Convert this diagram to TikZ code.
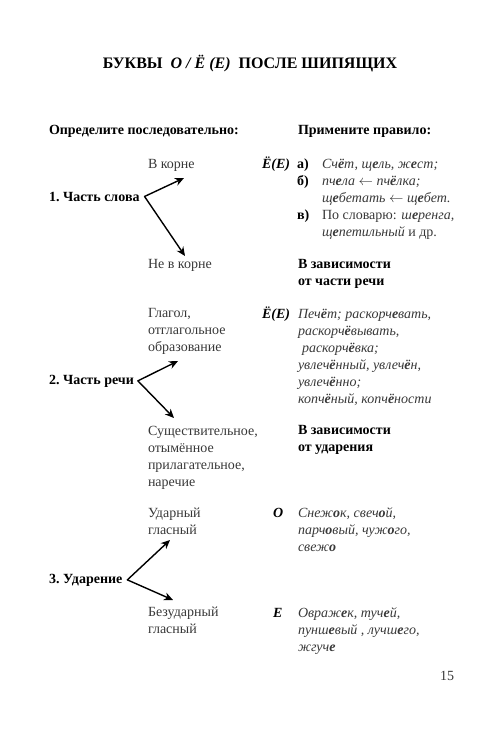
\documentclass[tikz,border=0pt]{standalone}
\usepackage{fontspec}
\setmainfont{Liberation Serif}
\usetikzlibrary{positioning}
\usetikzlibrary{arrows.meta}
\definecolor{thin}{gray}{0.22}
\newcommand{\bv}[1]{\textbf{#1}}

\begin{document}
\begin{tikzpicture}[
    x=1pt, y=-1pt,
    every node/.style={inner sep=0pt, outer sep=0pt, anchor=base west, align=left,
        font=\fontsize{14}{17}\selectfont},
    head/.style={font=\fontsize{14}{17}\selectfont\bfseries},
    item/.style={text=thin},
    letter/.style={font=\fontsize{14}{17}\selectfont\bfseries\itshape},
    ex/.style={text=thin, font=\fontsize{14}{17}\selectfont\itshape},
    branch/.style={line width=1.4pt, line cap=round,
        -{Stealth[length=9pt,width=8pt]}}
]
\useasboundingbox (0,0) rectangle (500,732);

\node[anchor=base, font=\fontsize{16}{18}\selectfont\bfseries] (title) at (250,68)
    {БУКВЫ\ \ \textit{О / Ё (Е)}\ \ ПОСЛЕ ШИПЯЩИХ};

\node[head] (left) at (49,134) {Определите последовательно:};
\node[head] (right) at (298,134) {Примените правило:};

% multi-line nodes sit on the baseline of their last line
% 1. Часть слова
\node[item] (root) at (148,168) {В корне};
\node[head] (part1) at (49,201) {1.~Часть слова};
\node[item] (noroot) at (148,268) {Не в корне};

\coordinate[right=5pt of part1] (v1);
\coordinate (t1a) at (184,178);
\coordinate (t1b) at (185,256);
\draw[branch] (v1) -- (t1a);
\draw[branch] (v1) -- (t1b);

\node[letter] (let1) at (262,168) {Ё(Е)};
\node[head] (la) at (297,168) {а)};
\node[head] (lb) at (297,185) {б)};
\node[head] (lc) at (297,219) {в)};
\node[ex] (ex1) at (322,236) {Сч\bv{ё}т, щ\bv{е}ль, ж\bv{е}ст;\\
    пч\bv{е}ла $\leftarrow$ пч\bv{ё}лка;\\
    щ\bv{е}бетать $\leftarrow$ щ\bv{е}бет.\\
    \upshape По словарю: \itshape ш\bv{е}ренга,\\
    щ\bv{е}петильный \upshape и др.};
\node[head] (dep1) at (298,285) {В зависимости\\от части речи};

% 2. Часть речи
\node[item] (verb) at (148,351) {Глагол,\\отглагольное\\образование};
\node[head] (part2) at (49,384) {2.~Часть речи};
\node[item] (noun) at (148,486) {Существительное,\\отымённое\\прилагательное,\\наречие};

\coordinate[right=4pt of part2] (v2);
\coordinate (t2a) at (178,361);
\coordinate (t2b) at (174,418);
\draw[branch] (v2) -- (t2a);
\draw[branch] (v2) -- (t2b);

\node[letter] (let2) at (262,318) {Ё(Е)};
\node[ex] (ex2) at (298,403) {Печ\bv{ё}т; раскорч\bv{е}вать,\\
    раскорч\bv{ё}вывать,\\
    \hspace{4pt}раскорч\bv{ё}вка;\\
    увлеч\bv{ё}нный, увлеч\bv{ё}н,\\
    увлеч\bv{ё}нно;\\
    копч\bv{ё}ный, копч\bv{ё}ности};
\node[head] (dep2) at (298,451) {В зависимости\\от ударения};

% 3. Ударение
\node[item] (stress) at (148,534) {Ударный\\гласный};
\node[head] (part3) at (49,583) {3.~Ударение};
\node[item] (nostress) at (148,633) {Безударный\\гласный};

\coordinate[right=5pt of part3] (v3);
\coordinate (t3a) at (170,540);
\coordinate (t3b) at (173,600);
\draw[branch] (v3) -- (t3a);
\draw[branch] (v3) -- (t3b);

\node[letter] (let3) at (273,517) {О};
\node[ex] (ex3) at (298,551) {Снеж\bv{о}к, свеч\bv{о}й,\\
    парч\bv{о}вый, чуж\bv{о}го,\\
    свеж\bv{о}};
\node[letter] (let4) at (273,617) {Е};
\node[ex] (ex4) at (298,651) {Овраж\bv{е}к, туч\bv{е}й,\\
    пунш\bv{е}вый , лучш\bv{е}го,\\
    жгуч\bv{е}};

\node[item] (page) at (440,680) {15};
\end{tikzpicture}
\end{document}
